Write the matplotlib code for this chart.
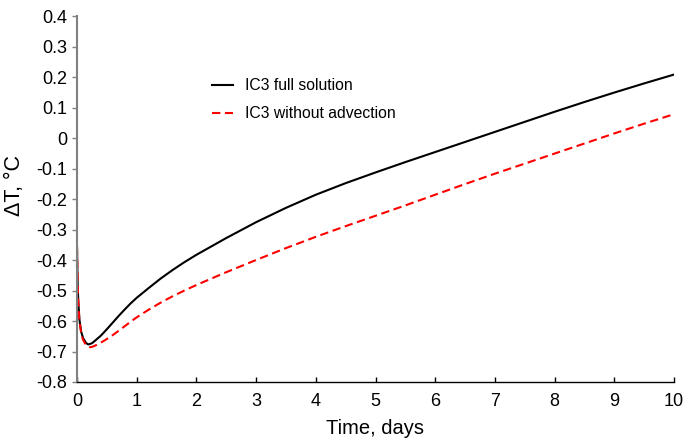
import matplotlib
matplotlib.use("Agg")
import matplotlib.pyplot as plt
from matplotlib.ticker import FixedLocator, FuncFormatter

plt.rcParams['font.family'] = ['Liberation Sans', 'DejaVu Sans']
plt.rcParams['axes.unicode_minus'] = False

time_full = [0, 0.01, 0.02, 0.04, 0.07, 0.1, 0.15, 0.19, 0.25, 0.3, 0.4, 0.5, 0.6,
             0.7, 0.8, 0.9, 1.0, 1.2, 1.4, 1.6, 1.8, 2, 2.5, 3, 3.5, 4, 4.5, 5,
             5.5, 6, 6.5, 7, 7.5, 8, 8.5, 9, 9.5, 10]
dT_full = [-0.356, -0.47, -0.53, -0.595, -0.635, -0.655, -0.672, -0.677, -0.673,
           -0.665, -0.648, -0.627, -0.605, -0.583, -0.562, -0.542, -0.524, -0.492,
           -0.461, -0.433, -0.407, -0.383, -0.328, -0.276, -0.229, -0.186, -0.148,
           -0.113, -0.079, -0.046, -0.013, 0.020, 0.053, 0.086, 0.118, 0.149,
           0.179, 0.208]

time_noadv = [0, 0.01, 0.02, 0.04, 0.07, 0.1, 0.15, 0.22, 0.25, 0.3, 0.4, 0.5, 0.6,
              0.7, 0.8, 0.9, 1.0, 1.2, 1.4, 1.6, 1.8, 2, 2.5, 3, 3.5, 4, 4.5, 5,
              5.5, 6, 6.5, 7, 7.5, 8, 8.5, 9, 9.5, 10]
dT_noadv = [-0.356, -0.47, -0.53, -0.598, -0.64, -0.661, -0.679, -0.686, -0.685,
            -0.681, -0.671, -0.659, -0.646, -0.632, -0.617, -0.602, -0.588, -0.563,
            -0.540, -0.519, -0.500, -0.482, -0.440, -0.400, -0.361, -0.324, -0.289,
            -0.255, -0.221, -0.186, -0.151, -0.117, -0.084, -0.051, -0.018, 0.015,
            0.047, 0.078]

x_ticks = [0, 1, 2, 3, 4, 5, 6, 7, 8, 9, 10]
y_ticks = [-0.8, -0.7, -0.6, -0.5, -0.4, -0.3, -0.2, -0.1, 0, 0.1, 0.2, 0.3, 0.4]

fig = plt.figure(figsize=(6.83, 4.42), dpi=100)
ax = fig.add_axes([77/683, 1 - 382/442, (674 - 77)/683, (382 - 16)/442])

ax.plot(time_full, dT_full, color='black', lw=1.5, label='IC3 full solution')
ax.plot(time_noadv, dT_noadv, color='red', lw=1.5, dashes=(4, 2.2),
        label='IC3 without advection')

ax.set_xlim(0, 10)
ax.set_ylim(-0.8, 0.4)
ax.xaxis.set_major_locator(FixedLocator(x_ticks))
ax.yaxis.set_major_locator(FixedLocator(y_ticks))

def yfmt(v, pos):
    if abs(v) < 1e-9:
        return '0'
    return f'{v:.1f}'

ax.yaxis.set_major_formatter(FuncFormatter(yfmt))

for s in ['top', 'right']:
    ax.spines[s].set_visible(False)
ax.spines['left'].set_color('#808080')
ax.spines['left'].set_linewidth(1.5)
ax.spines['bottom'].set_color('black')
ax.spines['bottom'].set_linewidth(1.0)

ax.tick_params(axis='y', direction='out', length=3.5, width=1.0, color='#808080',
               labelsize=13, pad=3.5)
ax.tick_params(axis='x', direction='in', length=3.5, width=1.0, color='black',
               labelsize=13, pad=8)

ax.set_xlabel('Time, days', fontsize=14.5, labelpad=6.5)
ax.set_ylabel('ΔT, °C', fontsize=15.5)
ax.yaxis.set_label_coords((25 - 77) / 597, (382 - 185) / 366)

leg = ax.legend(loc='upper left', bbox_to_anchor=(212/683, 1 - 78.5/442),
                bbox_transform=fig.transFigure, frameon=False, fontsize=11.3,
                handlelength=1.34, handletextpad=0.77, labelspacing=0.8,
                borderpad=0, borderaxespad=0)

fig.savefig('out.png', dpi=100)
